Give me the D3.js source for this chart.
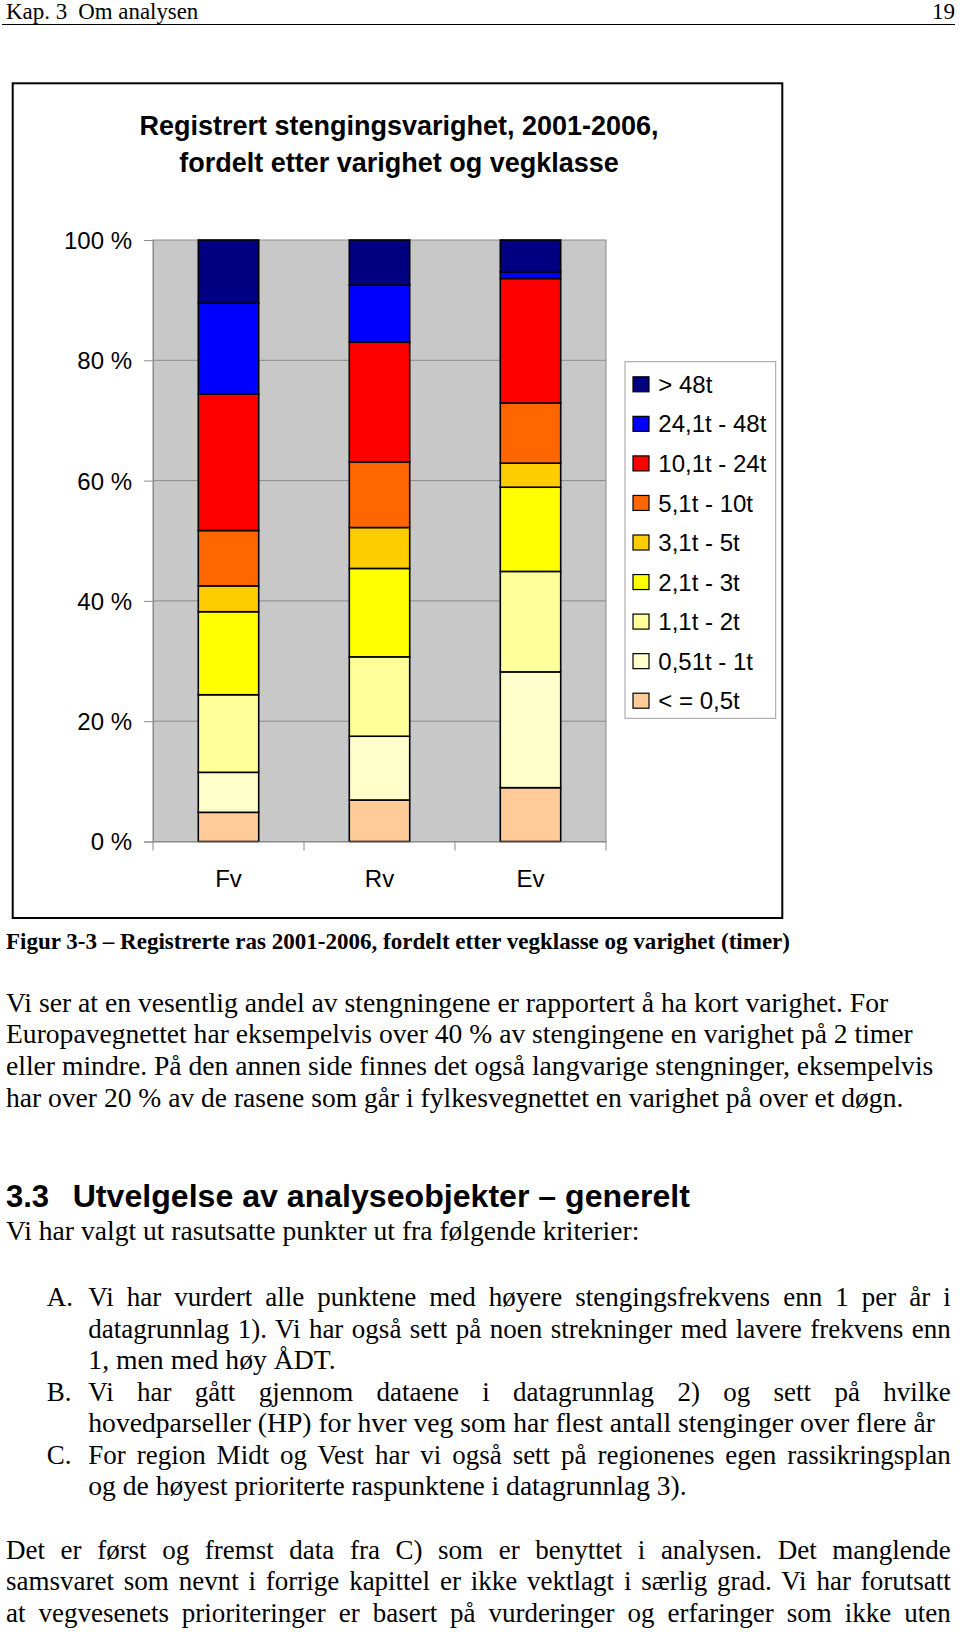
<!DOCTYPE html>
<html>
<head>
<meta charset="utf-8">
<script src="https://cdn.jsdelivr.net/npm/d3@7"></script>
<style>
  html, body { margin: 0; padding: 0; background: #fff; }
  svg { display: block; }
</style>
</head>
<body>
<svg id="page" width="960" height="1632"></svg>
<script>
// ---------- DATA ----------
const categories = ["Fv", "Rv", "Ev"];
// series from bottom of stack to top
const seriesNames = ["< = 0,5t", "0,51t - 1t", "1,1t - 2t", "2,1t - 3t", "3,1t - 5t",
                     "5,1t - 10t", "10,1t - 24t", "24,1t - 48t", "> 48t"];
const seriesColors = ["#FFCC99", "#FFFFCC", "#FFFF99", "#FFFF00", "#FFCC00",
                      "#FF6600", "#FF0000", "#0000FF", "#000080"];
const fvValues = [4.85, 6.65, 12.9, 13.8, 4.3, 9.2, 22.7, 15.1, 10.5];
const rvValues = [6.9, 10.6, 13.2, 14.7, 6.8, 10.9, 19.9, 9.5, 7.5];
const evValues = [8.95, 19.25, 16.7, 14.0, 4.0, 10.0, 20.7, 1.1, 5.3];
const yTicks = [0, 20, 40, 60, 80, 100];
const yTickLabels = ["0 %", "20 %", "40 %", "60 %", "80 %", "100 %"];

const SERIF = "'Liberation Serif', 'Times New Roman', serif";
const SANS = "'Liberation Sans', Arial, sans-serif";

const svg = d3.select("#page");
svg.append("rect").attr("width", 960).attr("height", 1632).attr("fill", "#fff");

// ---------- page header ----------
svg.append("text").attr("x", 6).attr("y", 19.3).attr("font-family", SERIF).attr("font-size", 23).text("Kap. 3");
svg.append("text").attr("x", 78.3).attr("y", 19.3).attr("font-family", SERIF).attr("font-size", 23)
   .attr("textLength", 120).attr("lengthAdjust", "spacingAndGlyphs").text("Om analysen");
svg.append("text").attr("x", 955).attr("y", 19.3).attr("text-anchor", "end").attr("font-family", SERIF).attr("font-size", 23).text("19");
svg.append("line").attr("x1", 2).attr("x2", 955).attr("y1", 24.5).attr("y2", 24.5).attr("stroke", "#000").attr("stroke-width", 1.2);

// ---------- chart frame ----------
svg.append("rect").attr("x", 12.7).attr("y", 83.3).attr("width", 769.6).attr("height", 834.7)
   .attr("fill", "#fff").attr("stroke", "#000").attr("stroke-width", 2);

// title
const title = svg.append("text").attr("text-anchor", "middle").attr("font-family", SANS)
   .attr("font-weight", "bold").attr("font-size", 27);
title.append("tspan").attr("x", 399).attr("y", 135).text("Registrert stengingsvarighet, 2001-2006,");
title.append("tspan").attr("x", 399).attr("y", 171.7).text("fordelt etter varighet og vegklasse");

// ---------- plot ----------
const plot = { left: 153, right: 606, top: 240, bottom: 841.5 };
const x = d3.scaleBand().domain(categories).range([plot.left, plot.right]).paddingInner(0.6).paddingOuter(0.3);
const y = d3.scaleLinear().domain([0, 100]).range([plot.bottom, plot.top]);

svg.append("rect").attr("x", plot.left).attr("y", plot.top)
   .attr("width", plot.right - plot.left).attr("height", plot.bottom - plot.top)
   .attr("fill", "#C8C8C8").attr("stroke", "#8a8a8a").attr("stroke-width", 1);

// gridlines
svg.append("g").selectAll("line").data(yTicks.filter(d => d > 0 && d < 100)).join("line")
   .attr("x1", plot.left).attr("x2", plot.right)
   .attr("y1", d => y(d)).attr("y2", d => y(d))
   .attr("stroke", "#8a8a8a").attr("stroke-width", 1);

// stacked bars
const table = categories.map((c, i) => {
  const vals = [fvValues, rvValues, evValues][i];
  const row = { cat: c };
  seriesNames.forEach((s, j) => row[s] = vals[j]);
  return row;
});
const stacked = d3.stack().keys(seriesNames)(table);
svg.append("g").selectAll("g").data(stacked).join("g")
   .attr("fill", (d, i) => seriesColors[i])
   .selectAll("rect").data(d => d).join("rect")
   .attr("x", d => x(d.data.cat))
   .attr("width", x.bandwidth())
   .attr("y", d => y(d[1]))
   .attr("height", d => y(d[0]) - y(d[1]))
   .attr("stroke", "#000").attr("stroke-width", 1.6);

// y axis
const yAxis = d3.axisLeft(y).tickValues(yTicks).tickSize(9).tickPadding(12)
   .tickFormat((d, i) => yTickLabels[i]);
const gy = svg.append("g").attr("transform", `translate(${plot.left},0)`).call(yAxis);
gy.select(".domain").attr("stroke", "#8a8a8a");
gy.selectAll(".tick line").attr("stroke", "#8a8a8a");
gy.selectAll(".tick text").attr("font-family", SANS).attr("font-size", 24).attr("fill", "#000").attr("dy", "0.35em");

// x axis
const xAxis = d3.axisBottom(x).tickSize(0).tickPadding(28);
const gx = svg.append("g").attr("transform", `translate(0,${plot.bottom})`).call(xAxis);
gx.select(".domain").attr("stroke", "#8a8a8a");
gx.selectAll(".tick text").attr("font-family", SANS).attr("font-size", 24).attr("fill", "#000");
// category boundary tick marks
const step = x.step();
const bounds = d3.range(categories.length + 1).map(i => plot.left + i * step);
gx.append("g").selectAll("line").data(bounds).join("line")
   .attr("x1", d => d).attr("x2", d => d).attr("y1", 0).attr("y2", 9)
   .attr("stroke", "#8a8a8a");

// legend
const legend = svg.append("g");
legend.append("rect").attr("x", 625).attr("y", 361.7).attr("width", 150.7).attr("height", 356.6)
   .attr("fill", "#fff").attr("stroke", "#a0a0a0").attr("stroke-width", 1);
const legendOrder = seriesNames.map((s, i) => ({ name: s, color: seriesColors[i] })).reverse();
const ly = d3.scalePoint().domain(legendOrder.map(d => d.name)).range([384.3, 700.7]);
const items = legend.selectAll("g.item").data(legendOrder).join("g").attr("class", "item")
   .attr("transform", d => `translate(0,${ly(d.name)})`);
items.append("rect").attr("x", 633).attr("y", -7.5).attr("width", 16).attr("height", 15)
   .attr("fill", d => d.color).attr("stroke", "#000").attr("stroke-width", 1.2);
items.append("text").attr("x", 658.3).attr("y", 0).attr("dy", "0.36em")
   .attr("font-family", SANS).attr("font-size", 24).text(d => d.name);

// ---------- caption ----------
svg.append("text").attr("x", 6).attr("y", 949.3).attr("font-family", SERIF).attr("font-weight", "bold")
   .attr("font-size", 23).attr("textLength", 784).attr("lengthAdjust", "spacingAndGlyphs")
   .text("Figur 3-3 – Registrerte ras 2001-2006, fordelt etter vegklasse og varighet (timer)");

// ---------- body text ----------
const BODY = 27;
function line(t, x0, x1, yb, justify) {
  const el = svg.append("text").attr("x", x0).attr("y", yb).attr("font-family", SERIF)
     .attr("font-size", BODY).text(t);
  const w = el.node().getComputedTextLength();
  const target = x1 - x0;
  const spaces = (t.match(/ /g) || []).length;
  if (justify && spaces > 0 && w < target) {
    el.attr("word-spacing", (target - w) / spaces);
  } else {
    el.attr("textLength", target).attr("lengthAdjust", "spacingAndGlyphs");
  }
  return el;
}
line("Vi ser at en vesentlig andel av stengningene er rapportert å ha kort varighet. For", 6, 888.3, 1011.7, false);
line("Europavegnettet har eksempelvis over 40 % av stengingene en varighet på 2 timer", 6, 912.7, 1043.3, false);
line("eller mindre. På den annen side finnes det også langvarige stengninger, eksempelvis", 6, 933.3, 1075, false);
line("har over 20 % av de rasene som går i fylkesvegnettet en varighet på over et døgn.", 6, 903.3, 1106.7, false);

// heading
svg.append("text").attr("x", 6).attr("y", 1207).attr("font-family", SANS).attr("font-weight", "bold")
   .attr("font-size", 31).text("3.3");
svg.append("text").attr("x", 72.7).attr("y", 1207).attr("font-family", SANS).attr("font-weight", "bold")
   .attr("font-size", 31).attr("textLength", 617.3).attr("lengthAdjust", "spacingAndGlyphs")
   .text("Utvelgelse av analyseobjekter – generelt");

line("Vi har valgt ut rasutsatte punkter ut fra følgende kriterier:", 6, 639.3, 1240, false);

const labelX = 46.7, textX = 88.3, rightX = 950.7;
[["A.", 1306], ["B.", 1400.5], ["C.", 1463.5]].forEach(([l, yy]) =>
  svg.append("text").attr("x", labelX).attr("y", yy).attr("font-family", SERIF).attr("font-size", BODY).text(l));

line("Vi har vurdert alle punktene med høyere stengingsfrekvens enn 1 per år i", textX, rightX, 1306, true);
line("datagrunnlag 1). Vi har også sett på noen strekninger med lavere frekvens enn", textX, rightX, 1337.5, true);
line("1, men med høy ÅDT.", textX, 335.6, 1369, false);
line("Vi har gått gjennom dataene i datagrunnlag 2) og sett på hvilke", textX, rightX, 1400.5, true);
line("hovedparseller (HP) for hver veg som har flest antall stenginger over flere år", textX, 935, 1432, false);
line("For region Midt og Vest har vi også sett på regionenes egen rassikringsplan", textX, rightX, 1463.5, true);
line("og de høyest prioriterte raspunktene i datagrunnlag 3).", textX, 686.7, 1495, false);

line("Det er først og fremst data fra C) som er benyttet i analysen. Det manglende", 6, rightX, 1558.5, true);
line("samsvaret som nevnt i forrige kapittel er ikke vektlagt i særlig grad. Vi har forutsatt", 6, rightX, 1590, true);
line("at vegvesenets prioriteringer er basert på vurderinger og erfaringer som ikke uten", 6, rightX, 1621.7, true);
</script>
</body>
</html>
